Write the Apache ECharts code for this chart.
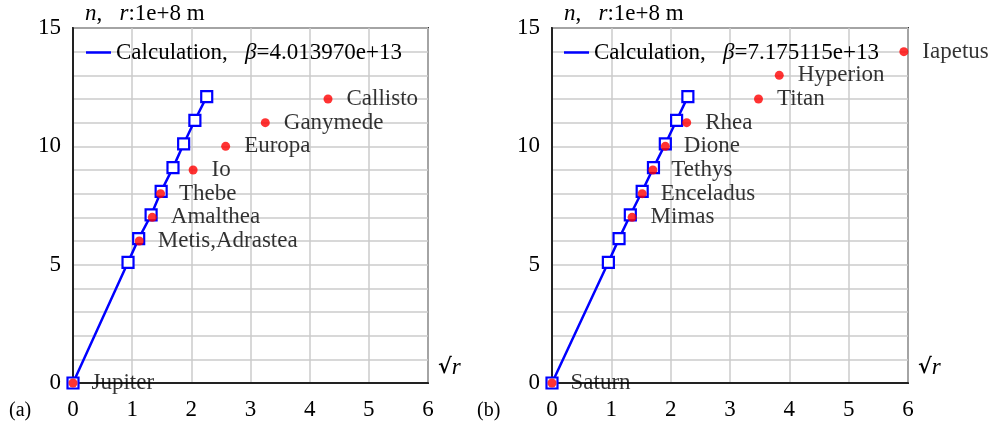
<!DOCTYPE html>
<html>
<head>
<meta charset="utf-8">
<script src="https://cdn.jsdelivr.net/npm/echarts@6/dist/echarts.min.js"></script>
<style>
  html, body { margin: 0; padding: 0; background: #fff; }
  #chart { width: 992px; height: 425px; }
</style>
</head>
<body>
<div id="chart"></div>
<script>
// (a) Jupiter system: sqrt(r) [r in 1e8 m] vs n
var jupCalcX = [0, 0.93, 1.11, 1.32, 1.49, 1.69, 1.87, 2.06, 2.26];
var jupCalcY = [0, 5.1, 6.1, 7.1, 8.1, 9.1, 10.1, 11.1, 12.1];
var jupMoons = ['Jupiter', 'Metis,Adrastea', 'Amalthea', 'Thebe', 'Io', 'Europa', 'Ganymede', 'Callisto'];
var jupMoonX = [0, 1.12, 1.34, 1.48, 2.03, 2.58, 3.25, 4.31];
var jupMoonY = [0, 6, 7, 8, 9, 10, 11, 12];
var jupBeta = '4.013970e+13';

// (b) Saturn system
var satCalcX = [0, 0.95, 1.13, 1.32, 1.52, 1.71, 1.91, 2.10, 2.29];
var satCalcY = [0, 5.1, 6.1, 7.1, 8.1, 9.1, 10.1, 11.1, 12.1];
var satMoons = ['Saturn', 'Mimas', 'Enceladus', 'Tethys', 'Dione', 'Rhea', 'Titan', 'Hyperion', 'Iapetus'];
var satMoonX = [0, 1.35, 1.52, 1.70, 1.91, 2.27, 3.48, 3.83, 5.93];
var satMoonY = [0, 7, 8, 9, 10, 11, 12, 13, 14];
var satBeta = '7.175115e+13';

var FONT = 'Liberation Serif, Times New Roman, serif';
var FS = 23;

function pairs(xs, ys) {
    return xs.map(function (x, i) { return [x, ys[i]]; });
}
function named(xs, ys, names) {
    return xs.map(function (x, i) { return { name: names[i], value: [x, ys[i]] }; });
}

function xAxisOf(idx) {
    return {
        type: 'value', gridIndex: idx, min: 0, max: 6, interval: 1,
        axisLine: { show: true, onZero: false, lineStyle: { color: '#222', width: 2 } },
        axisTick: { show: false },
        axisLabel: { color: '#000', fontFamily: FONT, fontSize: FS, margin: 15 },
        splitLine: { lineStyle: { color: '#cbcbcb', width: 1.5 } },
        name: '{sq|√}{r|r}',
        nameLocation: 'end',
        nameGap: 10,
        nameTextStyle: {
            align: 'left', verticalAlign: 'bottom', padding: [0, 0, 4, 0],
            fontFamily: FONT, fontSize: FS, color: '#000',
            rich: {
                sq: { fontFamily: 'DejaVu Serif', fontWeight: 'bold', fontSize: 21, color: '#000' },
                r: { fontFamily: FONT, fontStyle: 'italic', fontSize: FS, color: '#000' }
            }
        }
    };
}

function yAxisOf(idx) {
    return {
        type: 'value', gridIndex: idx, min: 0, max: 15, interval: 1,
        axisLine: { show: true, onZero: false, lineStyle: { color: '#222', width: 2 } },
        axisTick: { show: false },
        axisLabel: {
            color: '#000', fontFamily: FONT, fontSize: FS, margin: 12,
            formatter: function (v) { return v % 5 === 0 ? String(v) : ''; }
        },
        splitLine: { lineStyle: { color: '#cbcbcb', width: 1.5 } },
        name: '{i|n}{t|,   }{i|r}{t|:1e+8 m}',
        nameLocation: 'end',
        nameGap: 14,
        nameTextStyle: {
            align: 'left', verticalAlign: 'middle', padding: [0, 0, 0, 12],
            fontFamily: FONT, fontSize: FS, color: '#000',
            rich: {
                i: { fontFamily: FONT, fontStyle: 'italic', fontSize: FS, color: '#000' },
                t: { fontFamily: FONT, fontSize: FS, color: '#000' }
            }
        }
    };
}

function calcSeries(name, idx, xs, ys) {
    return {
        name: name, type: 'line', xAxisIndex: idx, yAxisIndex: idx, z: 2,
        data: pairs(xs, ys),
        symbol: 'rect', symbolSize: 11, showAllSymbol: true,
        lineStyle: { color: '#0000ff', width: 2.5 },
        itemStyle: { color: '#ffffff', borderColor: '#0000ff', borderWidth: 2.2 }
    };
}

function moonSeries(idx, xs, ys, names) {
    return {
        type: 'scatter', xAxisIndex: idx, yAxisIndex: idx, z: 5,
        data: named(xs, ys, names),
        symbol: 'circle', symbolSize: 9, clip: false,
        itemStyle: { color: '#ff0000' },
        label: {
            show: true, position: 'right', distance: 14, formatter: '{b}',
            color: '#000', fontFamily: FONT, fontSize: FS
        }
    };
}

function legendOf(name, left, beta) {
    return {
        data: [name], left: left, top: 41, padding: 0,
        icon: 'rect', itemWidth: 25, itemHeight: 2.5,
        itemStyle: { color: '#0000ff', borderWidth: 0 },
        selectedMode: false,
        formatter: function () { return '{t|Calculation,   }{b|β}{t|=' + beta + '}'; },
        textStyle: {
            color: '#000', fontFamily: FONT, fontSize: FS,
            rich: {
                t: { color: '#000', fontFamily: FONT, fontSize: FS },
                b: { color: '#000', fontFamily: FONT, fontSize: FS, fontStyle: 'italic' }
            }
        }
    };
}

var chart = echarts.init(document.getElementById('chart'));
chart.setOption({
    animation: false,
    backgroundColor: '#fff',
    grid: [
        { left: 73, top: 28, width: 355, height: 355, show: true, borderColor: '#333', borderWidth: 2 },
        { left: 552, top: 28, width: 356, height: 355, show: true, borderColor: '#333', borderWidth: 2 }
    ],
    xAxis: [xAxisOf(0), xAxisOf(1)],
    yAxis: [yAxisOf(0), yAxisOf(1)],
    legend: [
        legendOf('calcA', 86, jupBeta),
        legendOf('calcB', 564, satBeta)
    ],
    graphic: [
        { type: 'text', left: 9, top: 401, style: { text: '(a)', fontFamily: FONT, fontSize: 20, fill: '#000' } },
        { type: 'text', left: 477, top: 401, style: { text: '(b)', fontFamily: FONT, fontSize: 20, fill: '#000' } }
    ],
    series: [
        calcSeries('calcA', 0, jupCalcX, jupCalcY),
        calcSeries('calcB', 1, satCalcX, satCalcY),
        moonSeries(0, jupMoonX, jupMoonY, jupMoons),
        moonSeries(1, satMoonX, satMoonY, satMoons)
    ]
});
</script>
</body>
</html>
